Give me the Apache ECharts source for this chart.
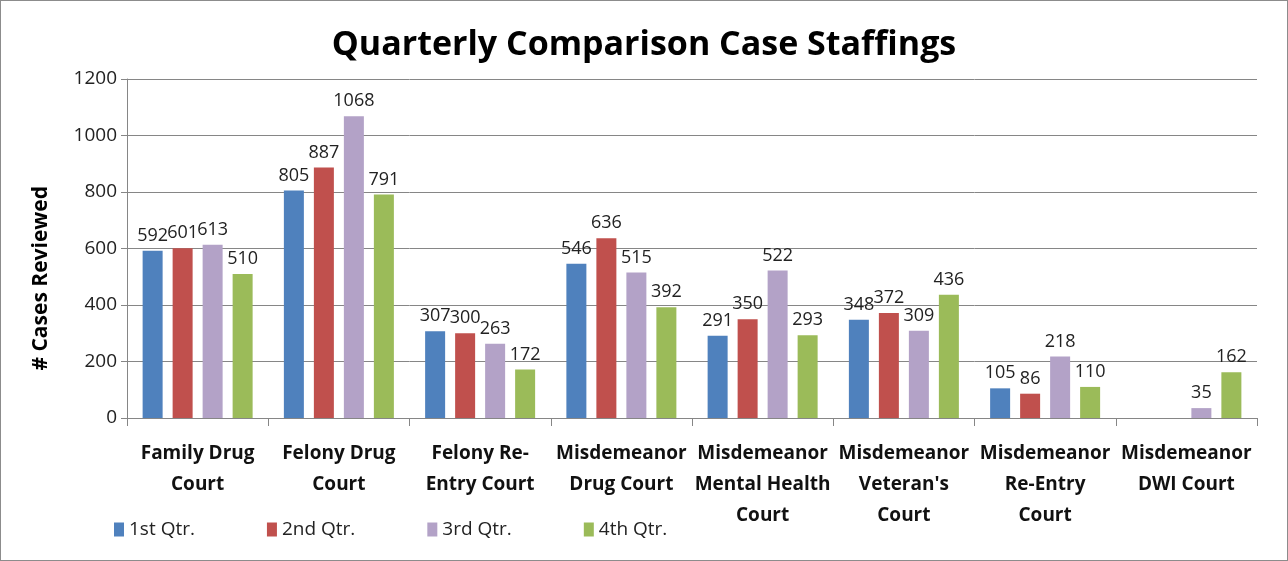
<!DOCTYPE html>
<html>
<head>
<meta charset="utf-8">
<script src="https://cdn.jsdelivr.net/npm/echarts@6/dist/echarts.min.js"></script>
<style>
  html, body { margin: 0; padding: 0; background: #fff; }
  #chart { width: 1286px; height: 559px; border: 1px solid #8c8c8c; }
</style>
</head>
<body>
<div id="chart"></div>
<script>
const categories = [
  'Family Drug\nCourt',
  'Felony Drug\nCourt',
  'Felony Re-\nEntry Court',
  'Misdemeanor\nDrug Court',
  'Misdemeanor\nMental Health\nCourt',
  "Misdemeanor\nVeteran's\nCourt",
  'Misdemeanor\nRe-Entry\nCourt',
  'Misdemeanor\nDWI Court',
];
const seriesNames = ['1st Qtr.', '2nd Qtr.', '3rd Qtr.', '4th Qtr.'];
const q1 = [592, 805, 307, 546, 291, 348, 105, null];
const q2 = [601, 887, 300, 636, 350, 372, 86, null];
const q3 = [613, 1068, 263, 515, 522, 309, 218, 35];
const q4 = [510, 791, 172, 392, 293, 436, 110, 162];
const yTicks = [0, 200, 400, 600, 800, 1000, 1200];

const font = "'Open Sans', sans-serif";
const colors = ['#4f81bd', '#c0504d', '#b3a2c7', '#9bbb59'];

const chartBlock = document.getElementById('chart');
const chart = echarts.init(chartBlock);

const makeSeries = (name, data) => ({
  name,
  type: 'bar',
  data,
  barWidth: 20,
  barGap: '50%',
  label: {
    show: true,
    position: 'top',
    distance: 6,
    fontFamily: font,
    fontSize: 18,
    color: '#222',
  },
});

const option = {
  color: colors,
  textStyle: { fontFamily: font },
  title: {
    text: 'Quarterly Comparison Case Staffings',
    left: 'center',
    top: 22,
    textStyle: {
      fontFamily: font,
      fontSize: 34,
      fontWeight: 'bold',
      color: '#000',
    },
  },
  grid: {
    left: 126,
    right: 30,
    top: 78,
    bottom: 142,
  },
  legend: {
    left: 108,
    bottom: 16,
    itemWidth: 10,
    itemHeight: 14,
    itemGap: 72,
    icon: 'rect',
    textStyle: { fontFamily: font, fontSize: 19, color: '#222' },
    data: seriesNames,
  },
  xAxis: {
    type: 'category',
    data: categories,
    axisLine: { lineStyle: { color: '#868686' } },
    axisTick: { show: true, length: 8, lineStyle: { color: '#868686' } },
    axisLabel: {
      interval: 0,
      margin: 20,
      fontFamily: font,
      fontSize: 19,
      fontWeight: 'bold',
      color: '#111',
      lineHeight: 31,
    },
  },
  yAxis: {
    type: 'value',
    min: yTicks[0],
    max: yTicks[yTicks.length - 1],
    interval: 200,
    axisLine: { show: true, lineStyle: { color: '#868686' } },
    axisTick: { show: true, length: 6, lineStyle: { color: '#868686' } },
    splitLine: { lineStyle: { color: '#868686' } },
    axisLabel: {
      margin: 10,
      fontFamily: font,
      fontSize: 19,
      color: '#222',
      formatter: (v) => String(v),
    },
  },
  graphic: [
    {
      type: 'text',
      left: 30,
      top: 185,
      rotation: Math.PI / 2,
      style: {
        text: '# Cases Reviewed',
        fontFamily: font,
        fontSize: 21,
        fontWeight: 'bold',
        fill: '#000',
      },
    },
  ],
  series: [
    makeSeries(seriesNames[0], q1),
    makeSeries(seriesNames[1], q2),
    makeSeries(seriesNames[2], q3),
    makeSeries(seriesNames[3], q4),
  ],
};

chart.setOption(option);
window.addEventListener('resize', () => chart.resize());
</script>
</body>
</html>
